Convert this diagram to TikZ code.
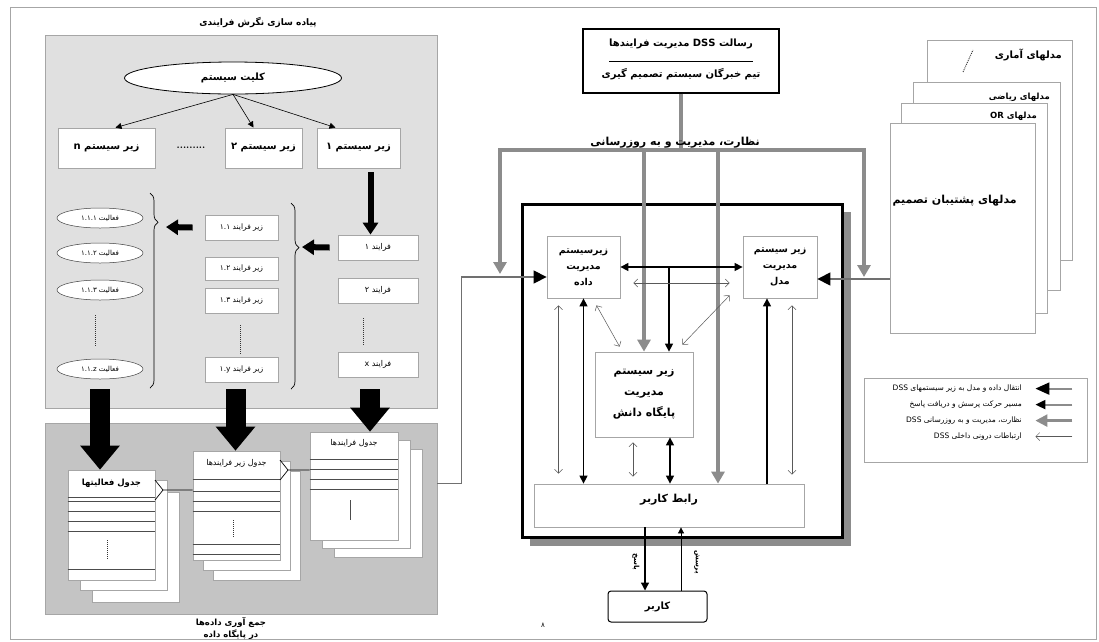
\documentclass[tikz,border=0pt]{standalone}
\usepackage{fontspec}
\usepackage{tikz}
\usetikzlibrary{arrows.meta,shapes.geometric,decorations.pathreplacing,calc}
\newfontfamily\arabicfont[Script=Arabic]{DejaVu Sans}
\TeXXeTstate=1
\definecolor{panelA}{HTML}{E0E0E0}
\definecolor{panelB}{HTML}{C4C4C4}
\definecolor{flow}{HTML}{8C8C8C}
\definecolor{edge}{HTML}{A6A6A6}
\newcommand\fatxt[1]{{\arabicfont\beginR #1\endR}}
\newcommand\fsz[1]{\fontsize{#1}{#1}\selectfont}
\tikzset{
  every node/.style={inner sep=0pt, font=\bfseries\fsz{10}},
  panel/.style={draw=edge, line width=.8pt},
  box/.style={draw=edge, fill=white, line width=.8pt, align=center},
  smallbox/.style={box, font=\fsz{8}},
  act/.style={ellipse, draw=black!75, fill=white, line width=.5pt,
    minimum width=86pt, minimum height=20pt, font=\fsz{7}},
  page/.style={draw=edge, fill=white, line width=.6pt},
  rowline/.style={black!70, line width=.6pt},
  pointer/.style={line width=.6pt, -{Triangle[length=6pt,width=6pt]}},
  fatarrow/.style={line width=6pt, -{Triangle[length=12pt,width=15pt]}},
  bigdown/.style={line width=20pt, -{Triangle[length=24pt,width=38pt]}},
  ctrlbus/.style={flow, line width=3.5pt},
  ctrl/.style={ctrlbus, -{Triangle[length=12pt,width=13pt]}},
  feed/.style={flow!80!black, line width=1.3pt, -{Triangle[length=13pt,width=13pt,color=black]}},
  link/.style={line width=1.3pt, {Triangle[length=8pt,width=8pt]}-{Triangle[length=8pt,width=8pt]}},
  uplink/.style={line width=1.3pt, -{Triangle[length=8pt,width=8pt]}},
  inner/.style={black!65, line width=.5pt, {Straight Barb[length=4pt,width=8pt]}-{Straight Barb[length=4pt,width=8pt]}},
  ellip/.style={black!80, line width=.9pt, dash pattern=on 1pt off 1pt},
  legendtxt/.style={anchor=east, font=\fsz{7.5}},
}

\begin{document}
\begin{tikzpicture}[x=1pt,y=-1pt]
\useasboundingbox (0,0) rectangle (1099,641);
\draw[edge,line width=1pt] (10,7) rectangle (1096,639);

% process view
\node[panel, fill=panelA, minimum width=392pt, minimum height=373pt] (procpanel) at (241,221.5) {};
\node[panel, fill=panelB, minimum width=392pt, minimum height=191pt] (dbpanel) at (241,518.5) {};
\node[font=\bfseries\fsz{9}] (ptitle) at (258,22) {\fatxt{پیاده سازی نگرش فرایندی}};

\node[ellipse, draw, fill=white, line width=.8pt, minimum width=217pt, minimum height=32pt] (whole) at (233,78) {\fatxt{کلیت سیستم}};
\node[box, minimum width=83pt, minimum height=40pt] (sub1) at (358.5,148) {\fatxt{زیر سیستم ۱}};
\node[box, minimum width=77pt, minimum height=40pt] (sub2) at (263.5,148) {\fatxt{زیر سیستم ۲}};
\node[box, minimum width=97pt, minimum height=40pt] (subn) at (106.5,148) {\fatxt{زیر سیستم n}};
\node (subdots) at (191,148) {.........};
\draw[pointer] (whole.south) -- ([xshift=9pt]subn.north);
\draw[pointer] (whole.south) -- ([xshift=-10pt]sub2.north);
\draw[pointer] (whole.south) -- ([xshift=-23pt]sub1.north);

\node[smallbox, minimum width=80pt, minimum height=25pt] (proc1) at (378,247.5) {\fatxt{فرایند ۱}};
\node[smallbox, minimum width=80pt, minimum height=25pt] (proc2) at (378,290.5) {\fatxt{فرایند ۲}};
\node[smallbox, minimum width=80pt, minimum height=25pt] (procx) at (378,364.5) {\fatxt{فرایند x}};
\draw[ellip] (363,318) -- (363,346);
\draw[fatarrow] ([xshift=12pt,yshift=-4pt]sub1.south) -- ([xshift=12pt]sub1.south |- proc1.north);

\node[smallbox, minimum width=73pt, minimum height=25pt, font=\fsz{7.5}] (sp1) at (241.5,227.5) {\fatxt{زیر فرایند ۱.۱}};
\node[smallbox, minimum width=73pt, minimum height=23pt, font=\fsz{7.5}] (sp2) at (241.5,268.5) {\fatxt{زیر فرایند ۱.۲}};
\node[smallbox, minimum width=73pt, minimum height=25pt, font=\fsz{7.5}] (sp3) at (241.5,300.5) {\fatxt{زیر فرایند ۱.۳}};
\node[smallbox, minimum width=73pt, minimum height=25pt, font=\fsz{7.5}] (spy) at (241.5,369.5) {\fatxt{زیر فرایند ۱.y}};
\draw[ellip] (240,325) -- (240,355);
\draw[decorate, decoration={brace, amplitude=8pt, aspect=.24}, line width=.7pt] (291,203) -- (291,389);
\coordinate (tip1) at (302,247);
\draw[fatarrow] ([xshift=-8pt]proc1.west) -- (tip1);

\node[act] (a1) at (100,218) {\fatxt{فعالیت ۱.۱.۱}};
\node[act] (a2) at (100,253) {\fatxt{فعالیت ۱.۱.۲}};
\node[act] (a3) at (100,290) {\fatxt{فعالیت ۱.۱.۳}};
\node[act] (az) at (100,369) {\fatxt{فعالیت ۱.۱.z}};
\draw[ellip] (95,315) -- (95,346);
\draw[decorate, decoration={brace, amplitude=8pt, aspect=.15}, line width=.7pt] (150,193) -- (150,388);
\coordinate (tip2) at (166,227);
\draw[fatarrow] ([xshift=-12pt]sp1.west) -- (tip2);

% database tables
\foreach \dx/\dy in {24/22, 12/10} \draw[page] (68+\dx,470+\dy) rectangle ++(87,110);
\node[page, minimum width=87pt, minimum height=110pt] (tbl1) at (111.5,525) {};
\node[font=\bfseries\fsz{8.5}] (tbl1t) at ([yshift=-14pt]tbl1.north) {\fatxt{جدول فعالیتها}};
\foreach \r in {28,32,42,52,62,100} \draw[rowline] ([yshift=-\r pt]tbl1.north west) -- ([yshift=-\r pt]tbl1.north east);
\draw[ellip] (107,540) -- (107,560);

\foreach \dx/\dy in {20/20, 10/10} \draw[page] (193+\dx,451+\dy) rectangle ++(87,109);
\node[page, minimum width=87pt, minimum height=109pt] (tbl2) at (236.5,505.5) {};
\node[font=\fsz{8}] (tbl2t) at ([yshift=-13pt]tbl2.north) {\fatxt{جدول زیر فرایندها}};
\foreach \r in {29,41,51,61,94,104} \draw[rowline] ([yshift=-\r pt]tbl2.north west) -- ([yshift=-\r pt]tbl2.north east);
\draw[ellip] (233,520) -- (233,538);

\foreach \dx/\dy in {24/17, 12/8} \draw[page] (310+\dx,432+\dy) rectangle ++(88,108);
\node[page, minimum width=88pt, minimum height=108pt] (tbl3) at (354,486) {};
\node[font=\fsz{8}] (tbl3t) at ([yshift=-12pt]tbl3.north) {\fatxt{جدول فرایندها}};
\foreach \r in {28,38,48,58} \draw[rowline] ([yshift=-\r pt]tbl3.north west) -- ([yshift=-\r pt]tbl3.north east);
\draw[black!70, line width=.8pt] (350,500) -- (350,520);

\coordinate (k1) at (163,490);
\draw[line width=.7pt] (k1) -- ++(-8,-10) (k1) -- ++(-8,10) (k1) -- (tbl2.west |- k1);
\coordinate (k2) at (288,470);
\draw[line width=.7pt] (k2) -- ++(-8,-10) (k2) -- ++(-8,10) (k2) -- (tbl3.west |- k2);

\draw[bigdown] ([yshift=-10pt]az.south) -- (az.south |- tbl1.north);
\draw[bigdown] ($(tbl2.north |- spy.south)+(-1,7)$) -- ($(tbl2.north)+(-1,0)$);
\draw[bigdown] ($(procx.south)+(-8,12)$) -- ($(procx.south |- tbl3.north)+(-8,0)$);

\node[font=\bfseries\fsz{8.5}] (dbtitle) at (231,622) {\fatxt{جمع آوری داده‌ها}};
\node[font=\bfseries\fsz{8.5}] (dbtitle2) at (231,635) {\fatxt{در پایگاه داده}};

% DSS side
\fill[flow] (530,212) rectangle (851,546);
\node[draw, fill=white, line width=3pt, minimum width=320pt, minimum height=333pt] (dss) at (682,370.5) {};

\node[draw, line width=1.2pt, minimum width=196pt, minimum height=64pt] (mission) at (681,61) {};
\node[font=\bfseries\fsz{10}] (mtop) at (681,44) {\fatxt{رسالت \beginL DSS\endL{} مدیریت فرایندها}};
\node[font=\bfseries\fsz{10}] (mbot) at (681,74) {\fatxt{تیم خبرگان سیستم تصمیم گیری}};
\draw[line width=.6pt] ([xshift=-72pt]mission.center) -- ([xshift=72pt]mission.center);

\node[page, minimum width=145pt, minimum height=220pt] (mod1) at (999.5,150) {};
\node[page, minimum width=147pt, minimum height=208pt] (mod2) at (986.5,186) {};
\node[page, minimum width=146pt, minimum height=210pt] (mod3) at (974,208) {};
\node[page, minimum width=145pt, minimum height=210pt] (mod4) at (962.5,228) {};
\node[anchor=east, font=\bfseries\fsz{10}] (m1t) at (1062,55) {\fatxt{مدلهای آماری}};
\draw[ellip] (963,72) -- (973,50);
\node[anchor=east, font=\bfseries\fsz{8.5}] (m2t) at (1050,97) {\fatxt{مدلهای ریاضی}};
\node[anchor=east, font=\bfseries\fsz{8.5}] (m3t) at (1037,116) {\fatxt{مدلهای \beginL OR\endL}};
\node[anchor=east, font=\bfseries\fsz{11}] (m4t) at (1017,201) {\fatxt{مدلهای پشتیبان تصمیم}};

\node[box, minimum width=73pt, minimum height=62pt, font=\bfseries\fontsize{9.5}{16}\selectfont] (data) at (583.5,267) {\fatxt{زیرسیستم}\\\fatxt{مدیریت}\\\fatxt{داده}};
\node[box, minimum width=74pt, minimum height=62pt, font=\bfseries\fontsize{9.5}{16}\selectfont] (model) at (780,267) {\fatxt{زیر سیستم}\\\fatxt{مدیریت}\\\fatxt{مدل}};
\node[box, minimum width=98pt, minimum height=85pt, font=\bfseries\fontsize{11}{21}\selectfont] (kb) at (644,394.5) {\fatxt{زیر سیستم}\\\fatxt{مدیریت}\\\fatxt{پایگاه دانش}};
\node[box, minimum width=270pt, minimum height=43pt] (ui) at (669,505.5) {};
\node[font=\bfseries\fsz{11}] (uit) at (669,500) {\fatxt{رابط کاربر}};
\node[draw, line width=1pt, rounded corners=3pt, fill=white, minimum width=99pt, minimum height=31pt, font=\bfseries\fsz{10}] (user) at (657.5,606.5) {\fatxt{کاربر}};

% control lines
\coordinate (busL) at (500,150);
\coordinate (busR) at (864,150);
\coordinate (busM) at (718,150);
\draw[ctrlbus] (mission.south) -- (mission.south |- busL);
\draw[ctrlbus] (busL) -- (busR);
\node[font=\bfseries\fsz{11}] (bust) at (675,143) {\fatxt{نظارت، مدیریت و به روزرسانی}};
\draw[ctrl] ([yshift=1.75pt]busL) -- ($(busL)+(0,124)$);
\draw[ctrl] ([yshift=1.75pt]busR) -- ($(busR)+(0,127)$);
\draw[ctrl] (kb.north |- busL) -- (kb.north);
\draw[ctrl] (busM) -- (busM |- ui.north);

% data and models into the DSS
\draw[feed] ($(dbpanel.east)+(0,-35)$) -- ++(24,0) |- ($(data.west)+(0,10)$);
\draw[feed] ($(mod4.west)+(0,51)$) -- ($(model.east)+(0,12)$);

% links inside the DSS
\draw[link] (data.east) -- (model.west);
\coordinate (tap) at ($(kb.north)+(25,0)$);
\draw[uplink] (tap |- data.east) -- (tap);
\draw[inner] ($(data.east)+(13,16)$) -- ($(model.west)+(-13,16)$);
\draw[inner] ($(data.south)+(13,7)$) -- ($(kb.north west)+(25,-5)$);
\draw[inner] ($(kb.north east)+(-11,-7)$) -- ($(model.south west)+(-13,-3)$);
\draw[inner] ($(data.south)+(-25,7)$) -- ($(data.south |- ui.north)+(-25,-10)$);
\draw[link] (data.south) -- (data.south |- ui.north);
\draw[inner] ($(kb.south)+(-11,5)$) -- ($(kb.south |- ui.north)+(-11,-7)$);
\draw[link] ($(kb.south)+(26,0)$) -- ($(kb.south |- ui.north)+(26,0)$);
\draw[uplink] ($(model.south |- ui.north)+(-13,0)$) -- ($(model.south)+(-13,0)$);
\draw[inner] ($(model.south)+(12,7)$) -- ($(model.south |- ui.north)+(12,-9)$);

\coordinate (uiout) at ($(ui.south)+(-24,0)$);
\coordinate (uiin) at ($(ui.south)+(12,0)$);
\draw[uplink] (uiout) -- (uiout |- user.north);
\draw[line width=.8pt, -{Triangle[length=6pt,width=6pt]}] (uiin |- user.north) -- (uiin);
\node[rotate=-90, font=\bfseries\fsz{7}] (anst) at (636,562) {\fatxt{پاسخ}};
\node[rotate=-90, font=\bfseries\fsz{7}] (askt) at (697,562) {\fatxt{پرسش}};

% legend
\node[draw=edge, line width=.8pt, minimum width=223pt, minimum height=84pt] (legend) at (975.5,420) {};
\draw[flow, line width=2pt, -{Triangle[length=14pt,width=12pt,color=black]}] ($(legend.north east)+(-15,11)$) -- ++(-37,0);
\draw[flow, line width=2pt, -{Triangle[length=10pt,width=9pt,color=black]}] ($(legend.north east)+(-15,27)$) -- ++(-37,0);
\draw[flow, line width=2.5pt, -{Triangle[length=12pt,width=12pt]}] ($(legend.north east)+(-15,43)$) -- ++(-37,0);
\draw[inner, {-Straight Barb[length=4pt,width=8pt]}] ($(legend.north east)+(-15,59)$) -- ++(-37,0);
\node[legendtxt] (l1) at (1022,389) {\fatxt{انتقال داده و مدل به زیر سیستمهای \beginL DSS\endL}};
\node[legendtxt] (l2) at (1022,405) {\fatxt{مسیر حرکت پرسش و دریافت پاسخ}};
\node[legendtxt] (l3) at (1022,421) {\fatxt{نظارت، مدیریت و به روزرسانی \beginL DSS\endL}};
\node[legendtxt] (l4) at (1022,437) {\fatxt{ارتباطات درونی داخلی \beginL DSS\endL}};

\node[font=\fsz{7}] (pageno) at (543,625) {\fatxt{۸}};
\end{tikzpicture}
\end{document}
